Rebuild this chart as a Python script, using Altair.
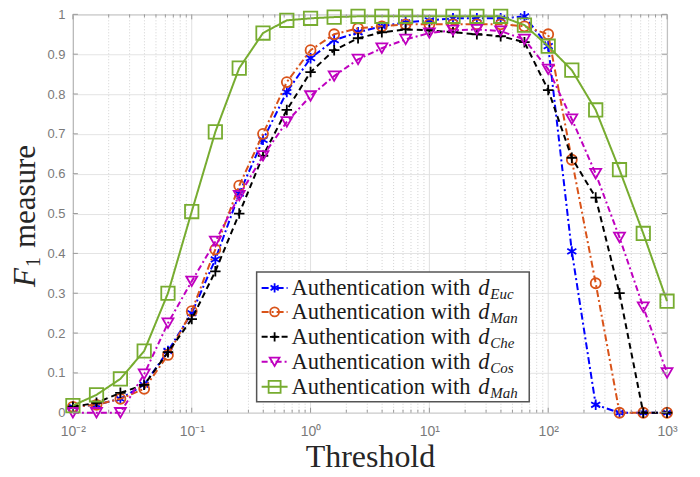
import altair as alt
import pandas as pd

# ---------------- data ----------------
thresholds = [0.01, 0.0158, 0.0251, 0.0398, 0.0631, 0.1, 0.158, 0.251, 0.398, 0.631,
              1.0, 1.58, 2.51, 3.98, 6.31, 10.0, 15.8, 25.1, 39.8, 63.1,
              100.0, 158.0, 251.0, 398.0, 631.0, 1000.0]

f1_euc = [0.015, 0.02, 0.035, 0.07, 0.155, 0.25, 0.385, 0.55, 0.685, 0.805,
          0.89, 0.935, 0.955, 0.97, 0.98, 0.985, 0.99, 0.99, 0.99, 0.995,
          0.92, 0.405, 0.02, 0.0, 0.0, 0.0]
f1_man = [0.015, 0.02, 0.035, 0.06, 0.145, 0.255, 0.41, 0.57, 0.70, 0.83,
          0.91, 0.95, 0.965, 0.97, 0.975, 0.975, 0.975, 0.975, 0.975, 0.97,
          0.95, 0.635, 0.325, 0.0, 0.0, 0.0]
f1_che = [0.015, 0.025, 0.05, 0.07, 0.152, 0.235, 0.355, 0.50, 0.645, 0.76,
          0.855, 0.91, 0.94, 0.955, 0.962, 0.96, 0.955, 0.95, 0.945, 0.93,
          0.81, 0.64, 0.54, 0.30, 0.0, 0.0]
f1_cos = [0.0, 0.0, 0.0, 0.097, 0.225, 0.33, 0.43, 0.545, 0.645, 0.73,
          0.795, 0.845, 0.887, 0.915, 0.937, 0.953, 0.96, 0.962, 0.958, 0.937,
          0.862, 0.737, 0.60, 0.44, 0.265, 0.10]
f1_mah = [0.018, 0.045, 0.085, 0.155, 0.30, 0.505, 0.705, 0.865, 0.953, 0.985,
          0.99, 0.993, 0.995, 0.995, 0.995, 0.995, 0.995, 0.995, 0.995, 0.973,
          0.92, 0.86, 0.76, 0.61, 0.45, 0.28]

series_keys = ["Euc", "Man", "Che", "Cos", "Mah"]
series_values = [f1_euc, f1_man, f1_che, f1_cos, f1_mah]
legend_main = "Authentication with"

major_x = [0.01, 0.1, 1, 10, 100, 1000]
minor_x = [m * d for d in [0.01, 0.1, 1, 10, 100] for m in range(2, 10)]
y_ticks = [0, 0.1, 0.2, 0.3, 0.4, 0.5, 0.6, 0.7, 0.8, 0.9, 1.0]

# ---------------- styles ----------------
W, H = 595, 399
ASTERISK = "M0,-1L0,1M-0.866,-0.5L0.866,0.5M-0.866,0.5L0.866,-0.5"
PLUS = "M-1,0L1,0M0,-1L0,1"
styles = {
    "Euc": dict(color="#0000FF", dash=[7, 3, 2, 3], shape=ASTERISK, size=110),
    "Man": dict(color="#D95319", dash=[7, 3, 2, 3], shape="circle", size=100),
    "Che": dict(color="#000000", dash=[6, 4], shape=PLUS, size=110),
    "Cos": dict(color="#BF00BF", dash=[6, 3, 2, 3], shape="triangle-down", size=120),
    "Mah": dict(color="#77AC30", dash=[1, 0], shape="square", size=180),
}

xscale = alt.Scale(type="log", domain=[0.01, 1000], nice=False)
yscale = alt.Scale(domain=[0, 1], nice=False)

label_expr_x = ("datum.value < 0.05 ? '10⁻²' : datum.value < 0.5 ? '10⁻¹' : "
                "datum.value < 5 ? '10⁰' : datum.value < 50 ? '10¹' : "
                "datum.value < 500 ? '10²' : '10³'")
xaxis = alt.Axis(values=major_x, labelExpr=label_expr_x, grid=False, ticks=False,
                 domain=False, labelFont="Liberation Sans", labelFontSize=14,
                 labelColor="#7a7a7a", labelPadding=12, labelOverlap=False,
                 labelFlush=False,
                 title="Threshold", titleFont="Liberation Serif", titleFontSize=32,
                 titleFontWeight="normal", titleColor="#262626", titlePadding=3)
yaxis = alt.Axis(values=y_ticks,
                 labelExpr="datum.value == 0 ? '0' : datum.value == 1 ? '1' : format(datum.value, '.1f')",
                 grid=True, gridColor="#e4e4e4", ticks=False, domain=False,
                 labelFont="Liberation Sans", labelFontSize=13, labelColor="#7a7a7a",
                 labelPadding=8, labelFlush=False, title=None)


def X(field="x"):
    return alt.X(f"{field}:Q", scale=xscale, axis=xaxis)


def Y(field="y"):
    return alt.Y(f"{field}:Q", scale=yscale, axis=yaxis)


layers = []

# minor dotted grid + major vertical grid
minor_df = pd.DataFrame({"x": minor_x})
major_df = pd.DataFrame({"x": major_x})
layers.append(alt.Chart(minor_df).mark_rule(color="#d2d2d2", strokeDash=[1, 2], strokeWidth=1)
              .encode(x=X()))
layers.append(alt.Chart(major_df).mark_rule(color="#e0e0e0", strokeWidth=1).encode(x=X()))

# series
for key, vals in zip(series_keys, series_values):
    st = styles[key]
    df = pd.DataFrame({"x": thresholds, "y": vals})
    layers.append(alt.Chart(df).mark_line(color=st["color"], strokeDash=st["dash"],
                                          strokeWidth=2, clip=False)
                  .encode(x=X(), y=Y()))
    layers.append(alt.Chart(df).mark_point(shape=st["shape"], size=st["size"], filled=False,
                                           color=st["color"], strokeWidth=1.8, opacity=1)
                  .encode(x=X(), y=Y()))

# inward ticks (box on all four sides)
tick_col = "#9a9a9a"
for y0, sgn in [(H, -1), (0, 1)]:
    layers.append(alt.Chart(major_df).mark_rule(color=tick_col)
                  .encode(x=X(), y=alt.value(y0), y2=alt.value(y0 + sgn * 5)))
    layers.append(alt.Chart(minor_df).mark_rule(color=tick_col)
                  .encode(x=X(), y=alt.value(y0), y2=alt.value(y0 + sgn * 3)))
ytick_df = pd.DataFrame({"y": y_ticks})
for x0, sgn in [(0, 1), (W, -1)]:
    layers.append(alt.Chart(ytick_df).mark_rule(color=tick_col)
                  .encode(y=Y(), x=alt.value(x0), x2=alt.value(x0 + sgn * 5)))

# legend
one = pd.DataFrame({"a": [0]})
layers.append(alt.Chart(one).mark_rect(fill="white", stroke="#555555", strokeWidth=1.5)
              .encode(x=alt.value(184), x2=alt.value(457), y=alt.value(258), y2=alt.value(388)))
row_centers = [274, 298, 323, 348, 373]
for key, yc in zip(series_keys, row_centers):
    st = styles[key]
    layers.append(alt.Chart(one).mark_rule(color=st["color"], strokeDash=st["dash"], strokeWidth=2)
                  .encode(x=alt.value(189), x2=alt.value(215), y=alt.value(yc)))
    layers.append(alt.Chart(one).mark_point(shape=st["shape"], size=st["size"] * 0.8, filled=False,
                                            color=st["color"], strokeWidth=1.8, opacity=1)
                  .encode(x=alt.value(202), y=alt.value(yc)))
    layers.append(alt.Chart(one).mark_text(font="Liberation Serif", fontSize=22.5, align="left",
                                           baseline="alphabetic", color="#1a1a1a")
                  .encode(x=alt.value(219), y=alt.value(yc + 7), text=alt.value(legend_main)))
    layers.append(alt.Chart(one).mark_text(font="Liberation Serif", fontSize=22.5, fontStyle="italic",
                                           align="left", baseline="alphabetic", color="#1a1a1a")
                  .encode(x=alt.value(406), y=alt.value(yc + 7), text=alt.value("d")))
    layers.append(alt.Chart(one).mark_text(font="Liberation Serif", fontSize=15, fontStyle="italic",
                                           align="left", baseline="alphabetic", color="#1a1a1a")
                  .encode(x=alt.value(418), y=alt.value(yc + 11), text=alt.value(key)))

# y-axis title  F_1 measure (rotated)
layers.append(alt.Chart(one).mark_text(font="Liberation Serif", fontSize=31, fontStyle="italic",
                                       angle=270, align="left", baseline="alphabetic",
                                       color="#262626")
              .encode(x=alt.value(-38), y=alt.value(273), text=alt.value("F")))
layers.append(alt.Chart(one).mark_text(font="Liberation Serif", fontSize=20, angle=270,
                                       align="left", baseline="alphabetic", color="#262626")
              .encode(x=alt.value(-33), y=alt.value(253), text=alt.value("1")))
layers.append(alt.Chart(one).mark_text(font="Liberation Serif", fontSize=31, angle=270,
                                       align="left", baseline="alphabetic", color="#262626")
              .encode(x=alt.value(-38), y=alt.value(234), text=alt.value("measure")))

chart = alt.layer(*layers).properties(
    width=W, height=H,
    autosize=alt.AutoSizeParams(type="none"),
    padding={"left": 65, "top": 6, "right": 25, "bottom": 61},
    background="white",
).configure_view(stroke="#9a9a9a", strokeWidth=1)

chart.save("out.html", embed_options={"renderer": "svg", "actions": False})
